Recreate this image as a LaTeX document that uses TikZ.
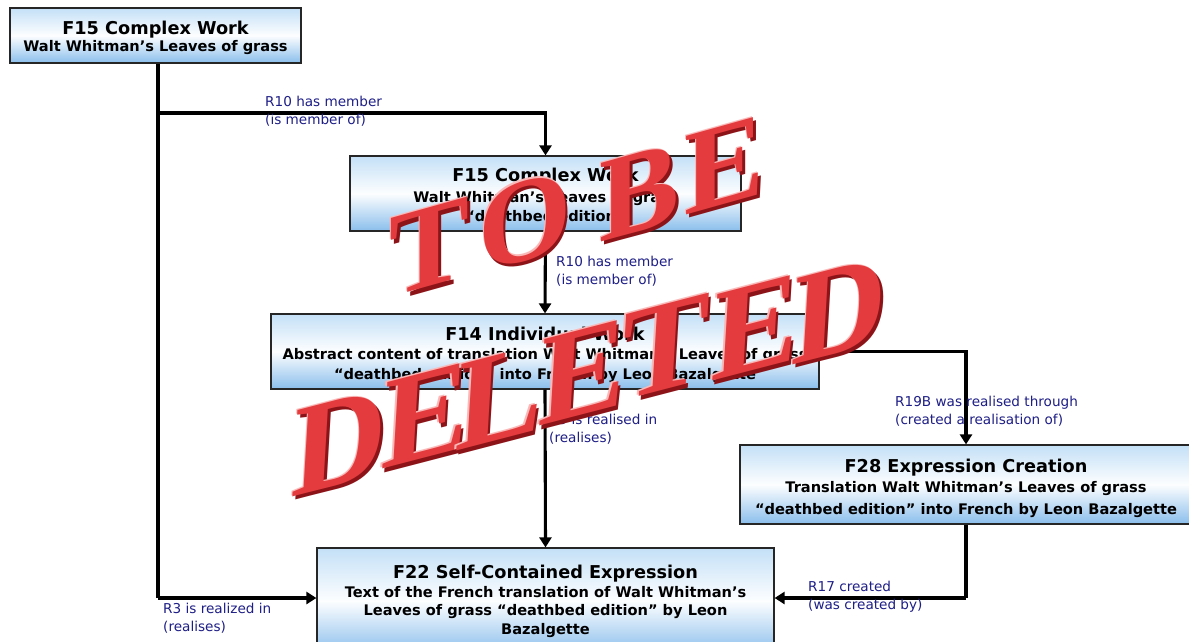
\documentclass[tikz,border=0pt]{standalone}
\usepackage{fontspec}
\setmainfont{DejaVu Sans}
\newfontfamily\stampfont{Liberation Serif}
\usetikzlibrary{arrows.meta}
\definecolor{lab}{RGB}{30,30,135}
\definecolor{boxtop}{RGB}{196,224,247}
\definecolor{boxbot}{RGB}{138,190,236}
\definecolor{stampred}{RGB}{228,60,62}
\definecolor{stampdark}{RGB}{140,20,24}
\definecolor{stamplight}{RGB}{250,185,185}
\newcommand\stampltr[6]{%
  \node[stampglyph, text=stampdark, #4, font=\stampfont\bfseries\fontsize{#5}{#5}\selectfont] (#1s) at ({#2+2.5},{#3+3.5}) {#6};
  \node[stampglyph, text=stamplight, #4, font=\stampfont\bfseries\fontsize{#5}{#5}\selectfont] (#1h) at ({#2-1.3},{#3-1.3}) {#6};
  \node[stampglyph, text=stampred, #4, font=\stampfont\bfseries\fontsize{#5}{#5}\selectfont] (#1) at (#2,#3) {#6};
}
\begin{document}
\begin{tikzpicture}[x=1pt,y=-1pt,
  box/.style={draw=black!85, line width=1.2pt, top color=boxtop, bottom color=boxbot, middle color=white!96!boxtop,
    inner sep=0pt},
  boxtext/.style={align=center, inner sep=0pt, font=\bfseries\fontsize{14.6}{18}\selectfont},
  lbl/.style={text=lab, align=left, anchor=north west, inner sep=0pt, font=\fontsize{13.6}{18}\selectfont},
  conn/.style={line width=3.1pt, black},
  arr/.style={conn, -{Triangle[width=12pt,length=10pt]}},
  stampglyph/.style={inner sep=0pt},
  tobe/.style={yslant=0.28},
  dele/.style={yslant=0.26, xslant=0.06}
]
\useasboundingbox (0,0) rectangle (1189,641);
\fill[white] (0,0) rectangle (1189,641);

% boxes
\node[box, minimum width=291pt, minimum height=55pt] (b1) at (155.5,35.5) {};
\node[box, minimum width=391pt, minimum height=75pt] (b2) at (545.5,193.5) {};
\node[box, minimum width=548pt, minimum height=75pt] (b3) at (545,351.5) {};
\node[box, minimum width=452pt, minimum height=79pt] (b4) at (966,484.5) {};
\node[box, minimum width=457pt, minimum height=106pt] (b5) at (545.5,601) {};

% box texts
\node[boxtext] (t1) at (155.5,38)
  {{\fontsize{17.7}{18}\selectfont F15 Complex Work}\\[-1pt] Walt Whitman’s Leaves of grass};
\node[boxtext] (t2) at (545.5,195)
  {{\fontsize{17.7}{18}\selectfont F15 Complex Work}\\[3pt] Walt Whitman’s Leaves of grass\\[1pt] “deathbed edition”};
\node[boxtext] (t3) at (545,354.5)
  {{\fontsize{17.7}{18}\selectfont F14 Individual Work}\\[1pt] Abstract content of translation Walt Whitman’s Leaves of grass\\[2pt] “deathbed edition” into French by Leon Bazalgette};
\node[boxtext] (t4) at (966,488)
  {{\fontsize{17.7}{18}\selectfont F28 Expression Creation}\\[2pt] Translation Walt Whitman’s Leaves of grass\\[4pt] “deathbed edition” into French by Leon Bazalgette};
\node[boxtext] (t5) at (545.5,601)
  {{\fontsize{17.7}{18}\selectfont F22 Self-Contained Expression}\\[1pt] Text of the French translation of Walt Whitman’s\\ Leaves of grass “deathbed edition” by Leon\\[1pt] Bazalgette};

% connectors
\coordinate (j1) at (158,113);
\coordinate (j2) at (158,598);
\draw[conn] (b1.south -| j1) -- (j2);
\draw[arr] (j2) -- (b5.west |- j2);
\draw[arr] (j1) -| (b2.north);
\draw[arr] (b2.south) -- (b3.north);
\draw[arr] (b3.south) -- (b5.north);
\draw[arr] (b3.east) -| (b4.north);
\coordinate (j3) at (b4.south |- j2);
\draw[conn] (b4.south) -- (j3);
\draw[arr] (j3) -- (b5.east |- j3);

% labels
\node[lbl] (l1) at (265,96) {R10 has member\\(is member of)};
\node[lbl] (l2) at (556,256) {R10 has member\\(is member of)};
\node[lbl] (l3) at (549,414) {R9 is realised in\\(realises)};
\node[lbl] (l4) at (895,396) {R19B was realised through\\(created a realisation of)};
\node[lbl] (l5) at (808,581) {R17 created\\(was created by)};
\node[lbl] (l6) at (163,603) {R3 is realized in\\(realises)};

% stamp
\stampltr{sT}{430}{247}{tobe}{120}{T}
\stampltr{sO}{525}{221}{tobe}{120}{O}
\stampltr{sB}{640}{192}{tobe}{120}{B}
\stampltr{sE}{725}{165}{tobe}{120}{E}
\stampltr{dD}{340}{442}{dele}{130}{D}
\stampltr{dE}{426}{415}{dele}{130}{E}
\stampltr{dL}{500}{397}{dele}{130}{L}
\stampltr{dEe}{583}{372}{dele}{130}{E}
\stampltr{dT}{665}{347}{dele}{130}{T}
\stampltr{dEee}{756}{327}{dele}{130}{E}
\stampltr{dDd}{840}{310}{dele}{130}{D}
\end{tikzpicture}
\end{document}
